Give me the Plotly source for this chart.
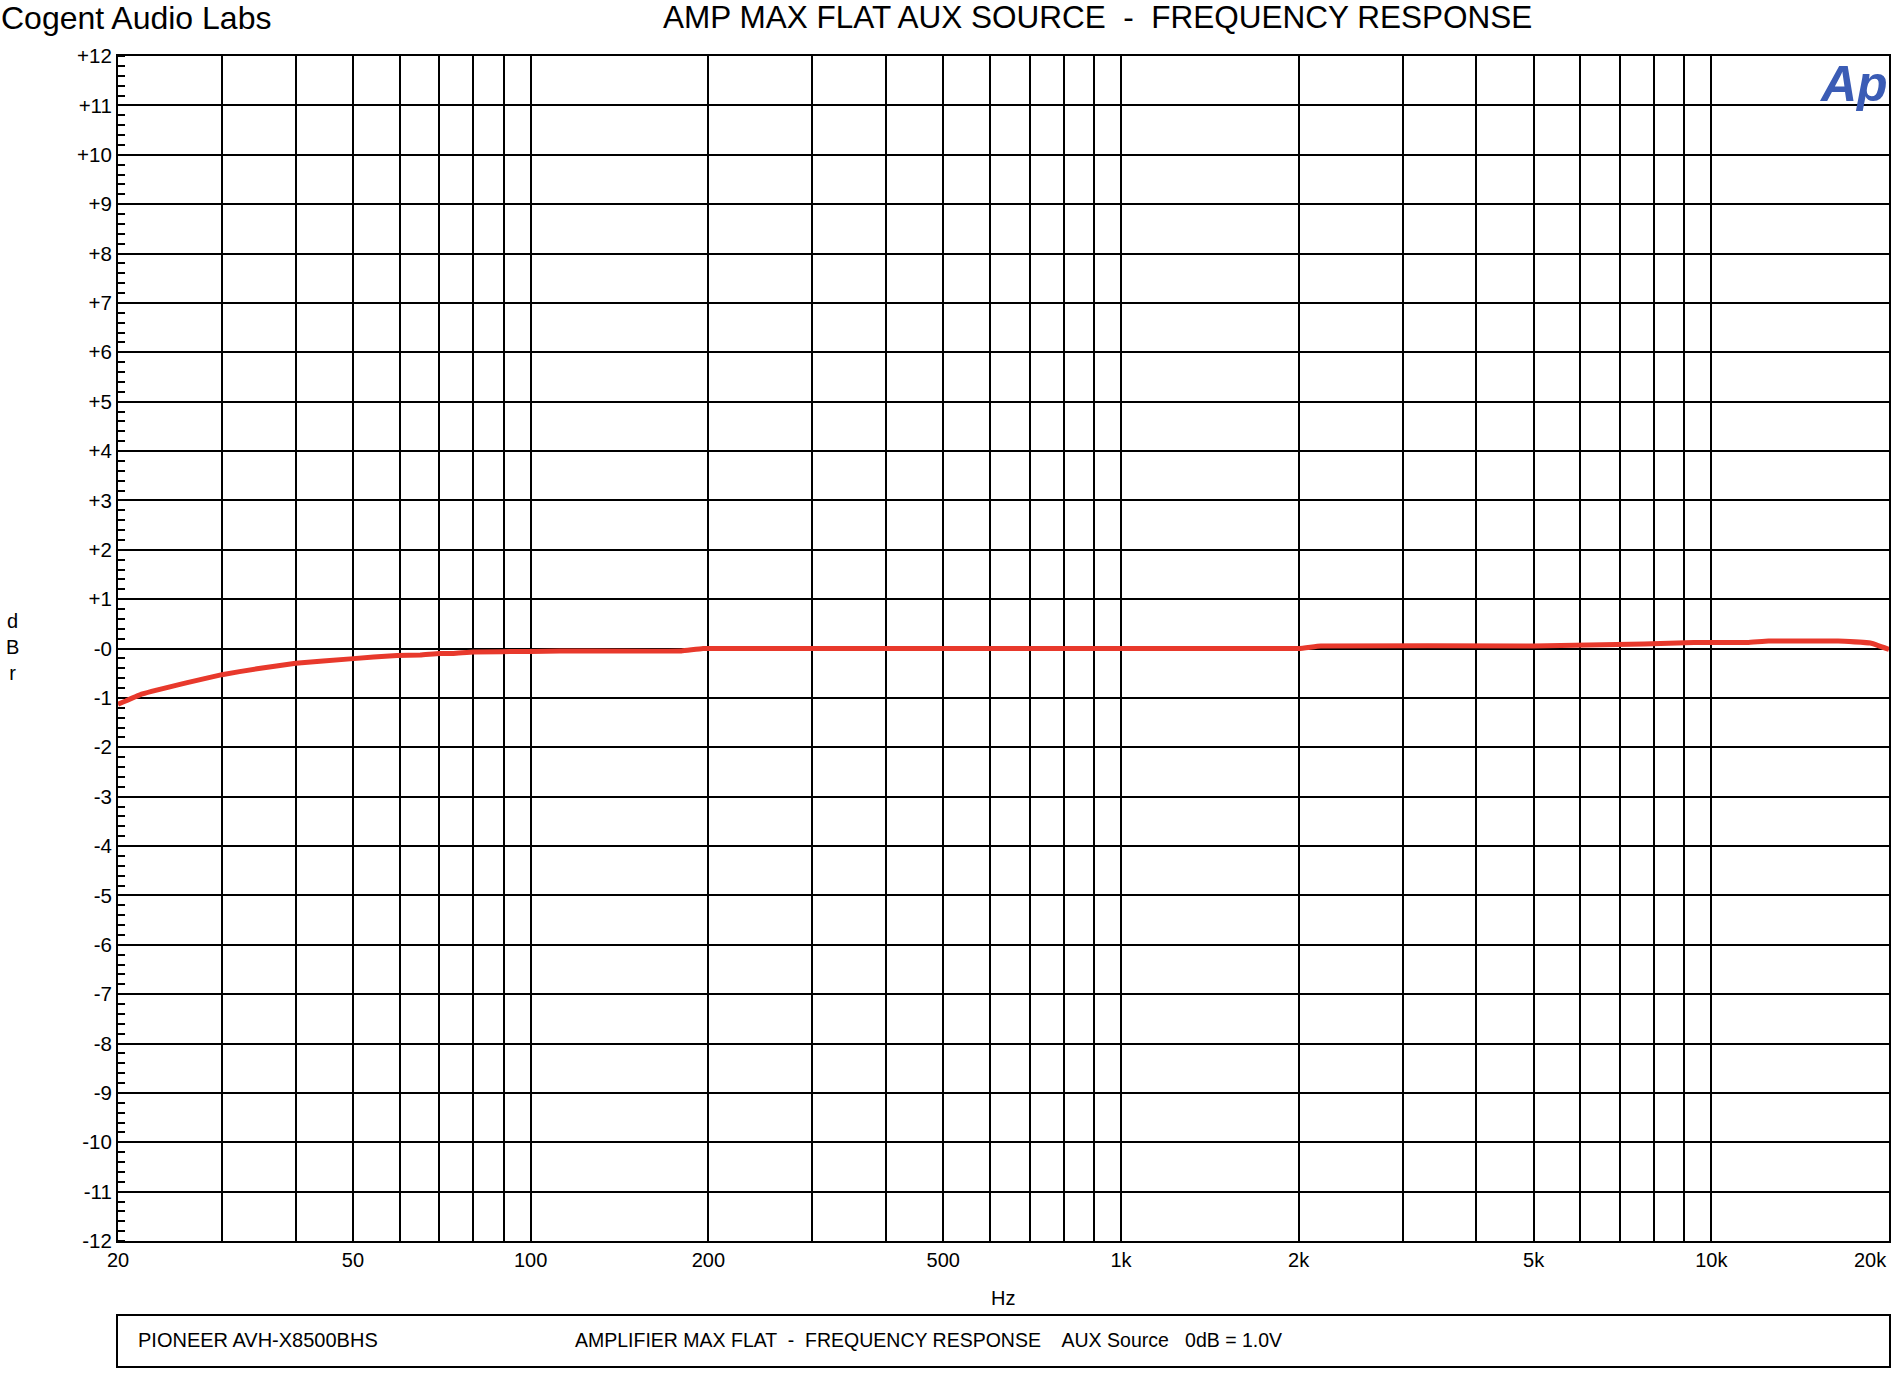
import math
import plotly.graph_objects as go

# ---- data ----
freq_hz = [20, 22, 26.2, 30, 34.4, 40, 49.5, 59.4, 65, 70, 74, 80, 100, 112, 180, 196,
           2000, 2180, 5000, 5560, 7690, 9340, 11500, 12500, 16400, 18600, 20000]
level_dbr = [-1.13, -0.92, -0.69, -0.53, -0.41, -0.30, -0.21, -0.14, -0.13, -0.10, -0.10, -0.07,
             -0.06, -0.05, -0.05, 0.0, 0.0, 0.05, 0.05, 0.06, 0.09, 0.12, 0.12, 0.15, 0.15, 0.11, -0.02]

x_grid_vals = [20, 30, 40, 50, 60, 70, 80, 90, 100, 200, 300, 400, 500, 600, 700, 800, 900,
               1000, 2000, 3000, 4000, 5000, 6000, 7000, 8000, 9000, 10000, 20000]
x_label_map = {20: "20", 50: "50", 100: "100", 200: "200", 500: "500", 1000: "1k",
               2000: "2k", 5000: "5k", 10000: "10k"}
x_last_label = "20k"
y_vals = list(range(-12, 13))
y_text = [("+%d" % v) if v > 0 else ("-0" if v == 0 else "%d" % v) for v in y_vals]

W, H = 1904, 1379
L, R, T, B = 118, 1889, 56, 1241
FONT = "Liberation Sans, Arial, sans-serif"

def px(x):
    return (x - L) / (R - L)

def py(y):
    return (B - y) / (B - T)

fig = go.Figure()
fig.add_trace(go.Scatter(x=freq_hz, y=level_dbr, mode="lines",
                         line=dict(color="#e8392c", width=5, shape="spline", smoothing=0.3),
                         hoverinfo="x+y", showlegend=False))

fig.update_layout(
    width=W, height=H,
    margin=dict(l=L, r=W - R, t=T, b=H - B, pad=0),
    paper_bgcolor="white", plot_bgcolor="white",
    font=dict(family=FONT, size=20, color="black"),
    xaxis=dict(type="log", range=[math.log10(20), math.log10(20000)], tickmode="array",
               tickvals=x_grid_vals,
               ticktext=[x_label_map.get(v, "") for v in x_grid_vals],
               showgrid=True, gridcolor="black", gridwidth=1.5,
               showline=True, linecolor="black", linewidth=2, mirror=True,
               ticks="", zeroline=False, tickfont=dict(size=20)),
    yaxis=dict(range=[-12, 12], tickmode="array", tickvals=y_vals, ticktext=y_text,
               showgrid=True, gridcolor="black", gridwidth=1.5,
               showline=True, linecolor="black", linewidth=2, mirror=True,
               ticks="", zeroline=False, tickfont=dict(size=20.5),
               minor=dict(dtick=0.2, ticks="inside", ticklen=7, tickcolor="black",
                          tickwidth=1.5, showgrid=False)),
)

ann = [
    dict(text="Cogent Audio Labs", x=px(-1), y=py(18), xanchor="left", yanchor="middle",
         font=dict(size=32)),
    dict(text="AMP MAX FLAT AUX SOURCE  -  FREQUENCY RESPONSE", x=px(1097), y=py(17),
         xanchor="center", yanchor="middle", font=dict(size=31.5)),
    dict(text="d<br>B<br>r", x=px(12), y=py(647), xanchor="center", yanchor="middle",
         font=dict(size=20)),
    dict(text="Hz", x=px(1003), y=py(1298), xanchor="center", yanchor="middle",
         font=dict(size=20)),
    dict(text=x_last_label, x=math.log10(20000), xref="x", y=py(1260), xanchor="right",
         yanchor="middle", font=dict(size=20)),
    dict(text="PIONEER AVH-X8500BHS", x=px(136), y=py(1340), xanchor="left",
         yanchor="middle", font=dict(size=20)),
    dict(text="AMPLIFIER MAX FLAT  -  FREQUENCY RESPONSE    AUX Source   0dB = 1.0V",
         x=px(573), y=py(1340), xanchor="left", yanchor="middle", font=dict(size=19.5)),
    dict(text="<b><i>Ap</i></b>", x=px(1853), y=py(84), xanchor="center", yanchor="middle",
         font=dict(size=50, color="#3b5cb5")),
]
for a in ann:
    a.setdefault("xref", "paper")
    a["yref"] = "paper"
    a["showarrow"] = False
    fig.add_annotation(**a)

fig.add_shape(type="rect", xref="paper", yref="paper",
              x0=px(117), x1=px(1890), y0=py(1367), y1=py(1315),
              line=dict(color="black", width=2), fillcolor="rgba(0,0,0,0)")

fig.write_html("out.html", config={"displayModeBar": False},
               post_script="document.body.style.margin='0';")
